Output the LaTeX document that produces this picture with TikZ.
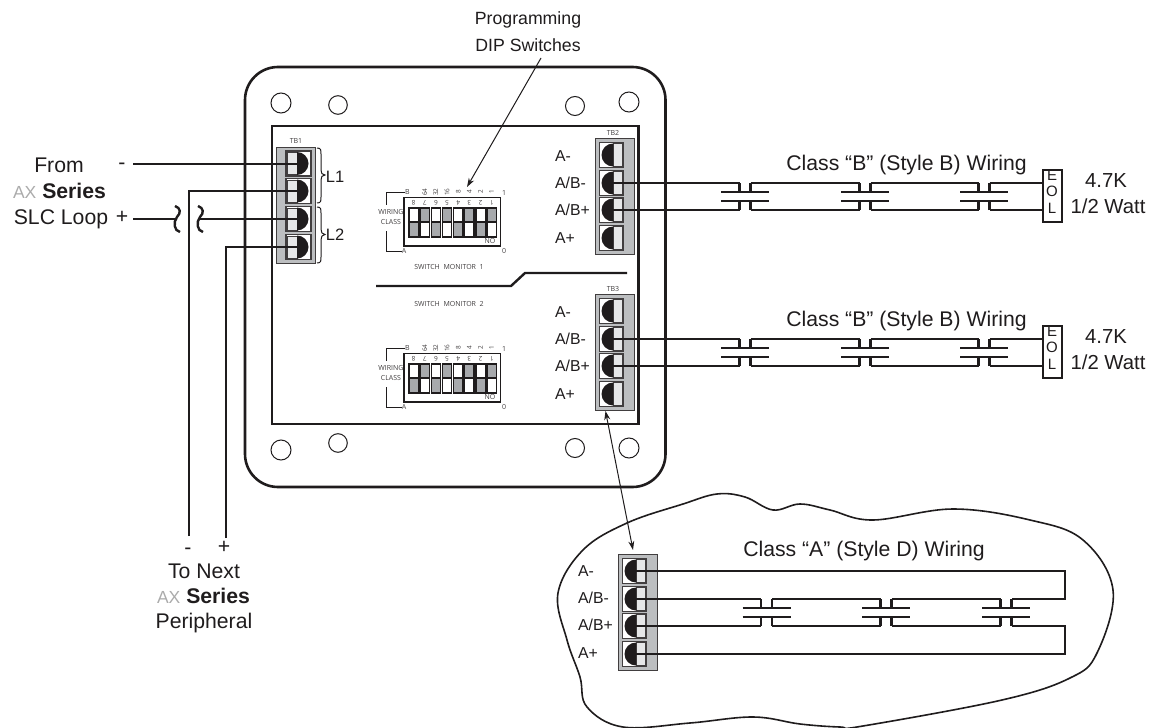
\documentclass[tikz,border=0pt]{standalone}
\usepackage{fontspec}
\setmainfont{Liberation Sans}
\newfontfamily\tinyfont{Open Sans}
\usetikzlibrary{arrows.meta}
\definecolor{ink}{HTML}{1F1C1D}
\definecolor{blockgray}{HTML}{BCBEC0}
\definecolor{cellgray}{HTML}{E6E7E8}
\definecolor{swgray}{HTML}{A7A9AC}
\newcommand{\axlogo}{{\fontsize{17.5}{24}\selectfont\color{black!33}AX}}
\tikzset{
  wire/.style={line width=2.4pt,draw=ink,line cap=butt,line join=miter},
  boxline/.style={line width=2.6pt,draw=ink},
  hole/.style={line width=1pt,draw=ink},
  blockbox/.style={fill=blockgray,draw=ink!85,line width=1pt},
  cellbox/.style={fill=white,draw=ink!85,line width=1.1pt},
  big/.style={font=\fontsize{21.2}{24}\selectfont,text=ink,inner sep=0pt},
  bigger/.style={font=\fontsize{20.3}{24}\selectfont,text=ink,inner sep=0pt},
  head/.style={font=\fontsize{17.7}{22}\selectfont,text=ink,inner sep=0pt},
  mid/.style={font=\fontsize{16}{19}\selectfont,text=ink,inner sep=0pt},
  term/.style={font=\fontsize{15.8}{19}\selectfont,text=ink,inner sep=0pt,anchor=west},
  small/.style={font=\tinyfont\fontsize{7}{8}\selectfont,text=ink!85,inner sep=0pt},
  smaller/.style={font=\tinyfont\fontsize{6.4}{8}\selectfont,text=ink!85,inner sep=0pt},
  thinbr/.style={line width=1pt,draw=ink},
  pointer/.style={line width=1pt,draw=ink,-{Stealth[length=9pt,width=6pt]}},
  pointerboth/.style={line width=1pt,draw=ink,{Stealth[length=9pt,width=6pt]}-{Stealth[length=9pt,width=6pt]}},
}
% terminal with the disc bulging right: name, cell left x, centre y
\newcommand{\termR}[3]{%
  \begin{scope}[shift={(#2,#3)}]
    \draw[cellbox] (0,-12.5) rectangle (25,12.5);
    \fill[cellgray,draw=ink!85,line width=.8pt] (1.5,-11) rectangle (11,11);
    \fill[ink] (11,-11.5) .. controls (17.35,-11.5) and (22.5,-6.35) .. (22.5,0)
       .. controls (22.5,6.35) and (17.35,11.5) .. (11,11.5) -- cycle;
    \coordinate (#1) at (17,0);
  \end{scope}}
% terminal with the disc bulging left
\newcommand{\termL}[3]{%
  \begin{scope}[shift={(#2,#3)}]
    \draw[cellbox] (0,-12.5) rectangle (24,12.5);
    \fill[cellgray,draw=ink!85,line width=.8pt] (13.5,-11.5) rectangle (23,11.5);
    \fill[ink] (13.5,-11.5) .. controls (7.15,-11.5) and (2,-6.35) .. (2,0)
       .. controls (2,6.35) and (7.15,11.5) .. (13.5,11.5) -- cycle;
    \coordinate (#1) at (13.5,0);
  \end{scope}}
% block of four right-hand terminals: prefix, left x, top y
\newcommand{\blockL}[3]{%
  \draw[blockbox] (#2,#3) rectangle ++(39,116);
  \termL{#1a}{#2+4.5}{#3+17}
  \termL{#1b}{#2+4.5}{#3+45}
  \termL{#1c}{#2+4.5}{#3+72}
  \termL{#1d}{#2+4.5}{#3+100}}
% line break symbol: name, centre x, upper wire y, lower wire y
\newcommand{\capbreak}[4]{%
  \coordinate (#1TL) at (#2-5.5,#3);
  \coordinate (#1TR) at (#2+5.5,#3);
  \coordinate (#1BL) at (#2-5.5,#4);
  \coordinate (#1BR) at (#2+5.5,#4);
  \draw[wire] (#2-24,#3+9) -- (#2+24,#3+9);
  \draw[wire] (#2-24,#4-9) -- (#2+24,#4-9);
  \draw[wire] (#1TL) -- (#2-5.5,#3+9);
  \draw[wire] (#1TR) -- (#2+5.5,#3+9);
  \draw[wire] (#1BL) -- (#2-5.5,#4-9);
  \draw[wire] (#1BR) -- (#2+5.5,#4-9);}
% DIP switch: prefix, vertical offset
\newcommand{\dipsw}[2]{%
  \begin{scope}[shift={(0,#2)}]
    \draw[line width=1.6pt,draw=ink,fill=white] (404,197.5) rectangle (500.5,246);
    \foreach \i/\n in {0/8,1/7,2/6,3/5,4/4,5/3,6/2,7/1}{
      \pgfmathsetmacro{\xa}{409+11.15*\i}
      \pgfmathsetmacro{\xb}{\xa+9.3}
      \pgfmathsetmacro{\xc}{\xa+4.65}
      \pgfmathtruncatemacro{\odd}{mod(\i,2)}
      \ifnum\odd=0
        \fill[white] (\xa,208) rectangle (\xb,222);
        \fill[swgray] (\xa,222) rectangle (\xb,237);
      \else
        \fill[swgray] (\xa,208) rectangle (\xb,222);
        \fill[white] (\xa,222) rectangle (\xb,237);
      \fi
      \draw[line width=1.4pt,draw=ink] (\xa,208) rectangle (\xb,237);
      \draw[line width=1.2pt,draw=ink] (\xa,222) -- (\xb,222);
      \node[smaller,rotate=180] (#1n\n) at (\xc,203) {\n};
    }
    \foreach \i/\v in {1/64,2/32,3/16,4/8,5/4,6/2,7/1}{
      \pgfmathsetmacro{\xc}{413.65+11.15*\i}
      \node[smaller,rotate=90] (#1v\i) at (\xc,192) {\v};
    }
    \node[small] (#1no) at (490,241) {NO};
    \node[small] (#1one) at (504,193) {1};
    \node[small] (#1zero) at (504,251) {0};
    \node[small] (#1B) at (407.5,192) {B};
    \node[small] (#1A) at (404,251) {A};
    \node[small] (#1w) at (391,212) {WIRING};
    \node[small] (#1c) at (391,222) {CLASS};
    \draw[line width=1pt,draw=ink] (#1B.west) -| (386,205);
    \draw[line width=1pt,draw=ink] (#1A.west) -| (386,231);
  \end{scope}}
\begin{document}
\begin{tikzpicture}[x=1pt,y=-1pt]
\useasboundingbox (0,0) rectangle (1152,728);

% enclosure
\draw[boxline] (245,67) [rounded corners=33pt] rectangle (665.5,487);
\draw[boxline] (272,126) rectangle (638.5,424);
\foreach \nm/\x/\y/\r in {h1/281/103/10,h2/338/105/9.3,h3/575/106/9.5,h4/629/102/10,
                          h5/281/450/10,h6/338/443/9.3,h7/575/448/9.5,h8/629/448/10}{
  \node[hole,circle,draw,minimum size=2*\r,inner sep=0pt] (\nm) at (\x,\y) {};
}

% TB1
\draw[blockbox] (276,147) rectangle (315,263);
\termR{ta}{286}{163.5}
\termR{tb}{286}{191}
\termR{tc}{286}{219}
\termR{td}{286}{247}
\node[small] (tb1lab) at (296,141) {TB1};
\node[mid,font=\fontsize{16.5}{20}\selectfont] (l1) at (335,177) {L1};
\node[mid,font=\fontsize{16.5}{20}\selectfont] (l2) at (335,235) {L2};
\draw[thinbr] (317,148) .. controls (321,148) and (321,150) .. (321,154) -- (321,170)
   .. controls (321,173) and (322,175) .. (325,175) .. controls (322,175) and (321,177) .. (321,180)
   -- (321,197) .. controls (321,201) and (321,203) .. (317,203);
\draw[thinbr] (317,207) .. controls (321,207) and (321,209) .. (321,213) -- (321,229)
   .. controls (321,232) and (322,234.5) .. (325,234.5) .. controls (322,234.5) and (321,237) .. (321,240)
   -- (321,257) .. controls (321,261) and (321,263) .. (317,263);

% DIP switches
\dipsw{p}{0}
\dipsw{q}{156}
\node[small] (sm1) at (449,267) {SWITCH\ \ MONITOR\ \ 1};
\node[small] (sm2) at (449,304) {SWITCH\ \ MONITOR\ \ 2};
\coordinate (da) at (376,286);
\coordinate (db) at (511,286);
\coordinate (dc) at (525,273);
\coordinate (dd) at (627,273);
\draw[line width=2.4pt,draw=ink] (da) -- (db) -- (dc) -- (dd);

% TB2 / TB3
\blockL{u}{595}{138}
\blockL{v}{595}{294}
\node[small] (tb2lab) at (613,132.5) {TB2};
\node[small] (tb3lab) at (613,289) {TB3};
\foreach \nm/\t/\y in {ua/A-/156,ub/A\slash B-/183,uc/A\slash B+/210,ud/A+/238,
                       va/A-/312,vb/A\slash B-/339,vc/A\slash B+/366,vd/A+/394}{
  \node[term] (l\nm) at (555,\y) {\t};
}

% left wiring
\coordinate (fm) at (133,164);
\coordinate (fp) at (133,219);
\coordinate (wl) at (176,219);
\coordinate (wr) at (200,219);
\coordinate (n1) at (189,536);
\coordinate (n2) at (226,538);
\draw[wire] (fm) -- (fm -| ta);
\draw[wire] (fp) -- (wl);
\draw[wire] (wr) -- (tc);
\draw[wire] (n1) |- (tb);
\draw[wire] (n2) |- (td);
\draw[wire] (175,206) .. controls (181,208) and (181,213) .. (177,217) .. controls (173,222) and (174,231) .. (180,232);
\draw[wire] (198,206) .. controls (204,208) and (204,213) .. (200,217) .. controls (196,222) and (197,231) .. (203,232);

\node[big] (from) at (59,165) {From};
\node[big] (fser) at (59.5,191) {\axlogo\ \textbf{Series}};
\node[big] (fslc) at (61,219) {SLC Loop};
\node[big] (fmi) at (122,166.5) {-};
\node[big] (fpl) at (122,217) {+};

\node[big] (nmi) at (188,551) {-};
\node[big] (npl) at (224,547) {+};
\node[big] (next1) at (204,571) {To Next};
\node[big] (next2) at (203.5,596) {\axlogo\ \textbf{Series}};
\node[big] (next3) at (204,623) {Peripheral};

% class B wiring
\foreach \dy/\p in {0/r,156/s}{
  \pgfmathsetmacro{\ya}{183+\dy}
  \pgfmathsetmacro{\yb}{210+\dy}
  \pgfmathsetmacro{\yl}{165+\dy}
  \pgfmathsetmacro{\ye}{195.5+\dy}
  \capbreak{\p1}{745}{\ya}{\yb}
  \capbreak{\p2}{865}{\ya}{\yb}
  \capbreak{\p3}{984}{\ya}{\yb}
  \node[draw=ink,line width=2pt,fill=white,minimum width=19pt,minimum height=52pt,inner sep=0pt] (\p eol) at (1052,\ye) {};
  \node[mid,font=\fontsize{15}{16}\selectfont] at (1052,\ye-20.5) {E};
  \node[mid,font=\fontsize{15}{16}\selectfont] at (1052,\ye-4) {O};
  \node[mid,font=\fontsize{15}{16}\selectfont] at (1052,\ye+12.5) {L};
  \node[big] (\p lab) at (906.5,\yl) {Class “B” (Style B) Wiring};
  \node[bigger] (\p val) at (1106,\ye-15) {4.7K};
  \node[bigger] (\p wat) at (1108,\ye+11) {1/2 Watt};
  \draw[wire] (\p1TR) -- (\p2TL);
  \draw[wire] (\p1BR) -- (\p2BL);
  \draw[wire] (\p2TR) -- (\p3TL);
  \draw[wire] (\p2BR) -- (\p3BL);
  \draw[wire] (\p3TR) -- (\p3TR -| \p eol.west);
  \draw[wire] (\p3BR) -- (\p3BR -| \p eol.west);
}
\draw[wire] (ub) -- (r1TL);
\draw[wire] (uc) -- (r1BL);
\draw[wire] (vb) -- (s1TL);
\draw[wire] (vc) -- (s1BL);

% class A detail
\draw[line width=1.6pt,draw=ink] plot[smooth cycle,tension=0.62] coordinates {
  (773,510) (745,497) (717,494) (683,504) (627,523) (583,550) (558,593) (567,640)
  (580,677) (587,707) (623,727) (690,723) (753,717) (800,724) (840,727) (863,726)
  (1002,700) (1070,678) (1097,653) (1113,590) (1083,540) (1030,520) (953,509) (873,520) (830,510) (800,504)};
\blockL{x}{618}{554}
\foreach \nm/\t/\y in {xa/A-/571,xb/A\slash B-/598,xc/A\slash B+/625,xd/A+/653}{
  \node[term] (l\nm) at (578,\y) {\t};
}
\capbreak{t1}{766.5}{599}{626}
\capbreak{t2}{886}{599}{626}
\capbreak{t3}{1006}{599}{626}
\coordinate (lt) at (1065,570);
\coordinate (lu) at (1065,599);
\coordinate (lv) at (1065,626);
\coordinate (lw) at (1065,653.5);
\draw[wire] (xa) -- (xa -| lt) -- (lu) -- (t3TR);
\draw[wire] (xd) -- (xd -| lw) -- (lv) -- (t3BR);
\draw[wire] (xb) -- (t1TL);
\draw[wire] (xc) -- (t1BL);
\draw[wire] (t1TR) -- (t2TL);
\draw[wire] (t1BR) -- (t2BL);
\draw[wire] (t2TR) -- (t3TL);
\draw[wire] (t2BR) -- (t3BL);
\node[big] (alab) at (864,551) {Class “A” (Style D) Wiring};

% pointers
\node[head] (prog1) at (528,20) {Programming};
\node[head] (prog2) at (528,45) {DIP Switches};
\coordinate (pa) at (541,58);
\coordinate (pb) at (467,187);
\draw[pointer] (pa) -- (pb);
\coordinate (qa) at (605.5,411);
\coordinate (qb) at (633,550);
\draw[pointerboth] (qa) -- (qb);
\end{tikzpicture}
\end{document}
